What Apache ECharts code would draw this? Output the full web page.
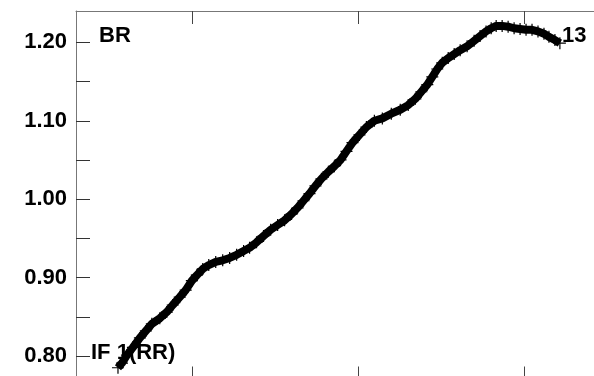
<!DOCTYPE html>
<html>
<head>
<meta charset="utf-8">
<script src="https://cdn.jsdelivr.net/npm/echarts@6/dist/echarts.min.js"></script>
<style>
html,body{margin:0;padding:0;background:#fff;overflow:hidden;width:594px;height:376px;}
#chart{width:700px;height:385px;}
</style>
</head>
<body>
<div id="chart"></div>
<script>
// x positions (arbitrary distance units)
var xValues = [5.53,5.77,6.07,6.43,6.85,7.21,7.57,8.05,8.47,8.83,9.25,9.61,9.98,10.28,10.64,11.00,11.42,11.84,12.26,12.68,13.10,13.46,13.88,14.30,14.73,15.15,15.57,15.99,16.35,16.71,17.07,17.43,17.79,18.21,18.57,18.94,19.30,19.66,20.08,20.50,20.98,21.46,22.00,22.54,23.02,23.45,23.81,24.17,24.47,24.77,25.07,25.43,25.79,26.15,26.57,26.99,27.35,27.71,28.02,28.32,28.68,29.04,29.40,29.76,30.12,30.48,30.84,31.20,31.50,31.86,32.16];
var yValues = [0.785,0.791,0.801,0.811,0.823,0.832,0.841,0.848,0.856,0.865,0.875,0.884,0.896,0.903,0.911,0.916,0.920,0.922,0.925,0.929,0.934,0.938,0.945,0.953,0.961,0.967,0.973,0.981,0.989,0.998,1.007,1.017,1.026,1.035,1.042,1.050,1.061,1.072,1.082,1.092,1.100,1.103,1.109,1.114,1.120,1.128,1.137,1.146,1.156,1.166,1.174,1.180,1.185,1.190,1.195,1.202,1.208,1.214,1.218,1.221,1.221,1.220,1.218,1.217,1.216,1.216,1.214,1.211,1.207,1.203,1.199];
var yTickValues = [0.80,0.85,0.90,0.95,1.00,1.05,1.10,1.15,1.20];
var yLabelValues = [0.80,0.90,1.00,1.10,1.20];
var xTickValues = [10,20,30];
var annotations = ['BR','13','IF 1(RR)'];

var data = xValues.map(function(x,i){return [x,yValues[i]];});
var font = "'Liberation Sans', Arial, sans-serif";
var crossPath = 'path://M4.5,0h1v4.5h4.5v1h-4.5v4.5h-1v-4.5h-4.5v-1h4.5z';

function xAxisDef(pos){
  return {
    type:'value', position:pos, min:3, max:40,
    axisLine:{show:true, onZero:false, lineStyle:{color:'#777', width:1}},
    axisTick:{show:true, inside:true, length:13, customValues:xTickValues, lineStyle:{color:'#444', width:1}},
    axisLabel:{show:false},
    splitLine:{show:false}
  };
}

var chart = echarts.init(document.getElementById('chart'), null, {renderer:'canvas'});
chart.setOption({
  animation:false,
  backgroundColor:'#fff',
  grid:{left:76, top:11, width:614, height:368.5, containLabel:false, outerBoundsMode:'none'},
  xAxis:[xAxisDef('bottom'), xAxisDef('top')],
  yAxis:{
    type:'value', min:0.77, max:1.24,
    axisLine:{show:true, onZero:false, lineStyle:{color:'#777', width:1}},
    axisTick:{show:true, inside:true, length:14, customValues:yTickValues, lineStyle:{color:'#333', width:1}},
    axisLabel:{show:true, customValues:yLabelValues, margin:9, color:'#000', fontFamily:font, fontWeight:'bold', fontSize:22,
      formatter:function(v){return v.toFixed(2);}},
    splitLine:{show:false}
  },
  series:[{
    type:'line', data:data, xAxisIndex:0,
    symbol:crossPath, symbolSize:12, showAllSymbol:true,
    itemStyle:{color:'#000'},
    lineStyle:{color:'#000', width:8},
    clip:false
  }],
  graphic:[
    {type:'text', left:99, top:25, style:{text:annotations[0], fill:'#000', font:"bold 22px "+font}},
    {type:'text', left:562, top:25, style:{text:annotations[1], fill:'#000', font:"bold 22px "+font}},
    {type:'text', left:91, top:342, style:{text:annotations[2], fill:'#000', font:"bold 22px "+font}}
  ]
});
</script>
</body>
</html>
